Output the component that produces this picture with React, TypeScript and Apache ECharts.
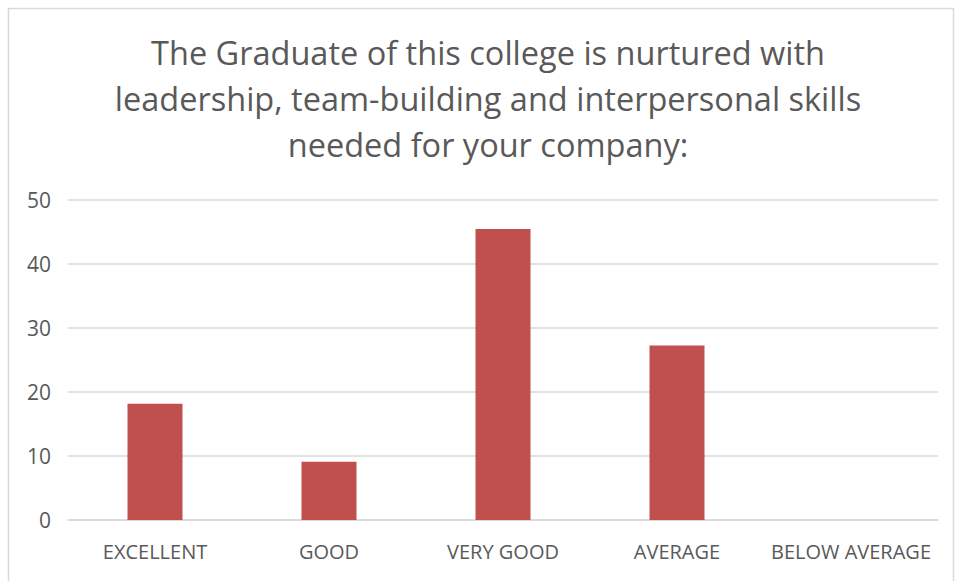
import React, { useEffect, useRef } from "react";
import * as echarts from "echarts";

const titleLines = [
  "The Graduate of this college is nurtured with",
  "leadership, team-building and interpersonal skills",
  "needed for your company:",
];
const categories = ["EXCELLENT", "GOOD", "VERY GOOD", "AVERAGE", "BELOW AVERAGE"];
const values = [18.18, 9.09, 45.45, 27.27, 0];
const yTicks = { min: 0, max: 50, interval: 10 };

export default function App() {
  const ref = useRef<HTMLDivElement>(null);
  useEffect(() => {
    if (!ref.current) return;
    const chart = echarts.init(ref.current, undefined, { renderer: "svg" });
    chart.setOption({
      animation: false,
      backgroundColor: "#ffffff",
      textStyle: { fontFamily: "Open Sans" },
      graphic: [
        {
          type: "rect",
          shape: { x: 8.5, y: 8.5, width: 945, height: 580 },
          style: { fill: "none", stroke: "#d9d9d9", lineWidth: 1.5 },
          silent: true,
        },
        {
          type: "text",
          x: 488,
          y: 29,
          style: {
            text: titleLines.join("\n"),
            textAlign: "center",
            textVerticalAlign: "top",
            font: "32.5px 'Open Sans'",
            lineHeight: 46,
            fill: "#595959",
          },
        },
      ],
      grid: { left: 68, right: 17, top: 200, bottom: 61 },
      xAxis: {
        type: "category",
        data: categories,
        axisLine: { lineStyle: { color: "#d9d9d9", width: 1.5 } },
        axisTick: { show: false },
        axisLabel: {
          color: "#595959",
          fontSize: 20,
          margin: 21,
          interval: 0,
          fontFamily: "Open Sans",
        },
      },
      yAxis: {
        type: "value",
        min: yTicks.min,
        max: yTicks.max,
        interval: yTicks.interval,
        axisLine: { show: false },
        axisTick: { show: false },
        splitLine: { lineStyle: { color: "#d9d9d9", width: 1.5 } },
        axisLabel: { color: "#595959", fontSize: 21, margin: 17, fontFamily: "Open Sans" },
      },
      series: [
        {
          type: "bar",
          data: values,
          barWidth: 55,
          itemStyle: { color: "#c0504d" },
        },
      ],
    });
    return () => chart.dispose();
  }, []);
  return (
    <div
      ref={ref}
      style={{ position: "fixed", left: 0, top: 0, width: 955, height: 581 }}
    />
  );
}
